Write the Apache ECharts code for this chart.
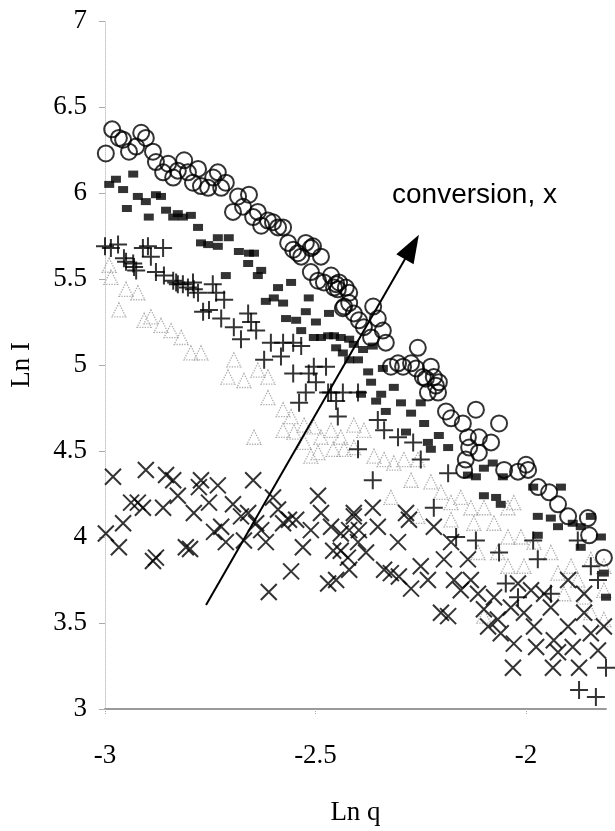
<!DOCTYPE html>
<html>
<head>
<meta charset="utf-8">
<script src="https://cdn.jsdelivr.net/npm/echarts@6/dist/echarts.min.js"></script>
<style>
  html, body { margin: 0; padding: 0; background: #fff; }
  #main { width: 615px; height: 831px; }
</style>
</head>
<body>
<div id="main"></div>
<script>
// Ln q / Ln I pairs, one array per conversion level
var circles = [
  [-2.983,6.37],[-2.998,6.23],[-2.967,6.32],[-2.957,6.31],[-2.943,6.24],[-2.926,6.27],[-2.914,6.35],[-2.903,6.32],
  [-2.886,6.24],[-2.879,6.18],[-2.862,6.12],[-2.850,6.17],[-2.838,6.09],[-2.827,6.13],[-2.812,6.19],[-2.803,6.12],
  [-2.791,6.06],[-2.779,6.14],[-2.772,6.04],[-2.755,6.03],[-2.743,6.09],[-2.732,6.12],[-2.724,6.03],[-2.713,6.06],
  [-2.696,5.89],[-2.684,5.98],[-2.672,5.92],[-2.658,5.99],[-2.648,5.86],[-2.637,5.89],[-2.629,5.81],[-2.613,5.84],
  [-2.601,5.83],[-2.589,5.80],[-2.577,5.80],[-2.565,5.71],[-2.553,5.67],[-2.542,5.65],[-2.534,5.63],[-2.523,5.71],
  [-2.511,5.68],[-2.506,5.69],[-2.487,5.63],[-2.511,5.54],[-2.494,5.49],[-2.480,5.48],[-2.463,5.52],[-2.456,5.45],
  [-2.451,5.47],[-2.447,5.44],[-2.444,5.48],[-2.428,5.45],[-2.432,5.34],[-2.420,5.42],[-2.435,5.33],[-2.420,5.36],
  [-2.409,5.30],[-2.397,5.26],[-2.385,5.22],[-2.363,5.34],[-2.352,5.27],[-2.340,5.20],[-2.333,5.13],[-2.368,5.16],
  [-2.257,5.10],[-2.321,4.99],[-2.304,5.01],[-2.292,4.99],[-2.273,5.01],[-2.261,4.98],[-2.245,4.93],[-2.226,4.99],
  [-2.238,4.92],[-2.219,4.93],[-2.207,4.90],[-2.233,4.84],[-2.209,4.84],[-2.214,4.88],[-2.190,4.73],[-2.178,4.69],
  [-2.150,4.66],[-2.119,4.74],[-2.064,4.66],[-2.138,4.58],[-2.112,4.58],[-2.083,4.55],[-2.135,4.52],[-2.112,4.49],
  [-2.143,4.45],[-2.147,4.39],[-2.052,4.39],[-2.019,4.38],[-2.000,4.42],[-1.995,4.39],[-1.971,4.29],[-1.945,4.26],
  [-1.924,4.19],[-1.900,4.12],[-1.853,4.11],[-1.850,4.01],[-1.815,3.88],[-1.798,3.73]
];
var squares = [
  [-2.990,6.05],[-2.974,6.08],[-2.957,6.02],[-2.933,6.11],[-2.948,5.91],[-2.922,5.98],[-2.903,5.95],[-2.879,5.99],
  [-2.867,5.98],[-2.896,5.86],[-2.855,5.90],[-2.838,5.86],[-2.827,5.88],[-2.815,5.86],[-2.796,5.87],[-2.779,5.80],
  [-2.772,5.71],[-2.755,5.70],[-2.732,5.69],[-2.732,5.74],[-2.706,5.74],[-2.682,5.66],[-2.658,5.65],[-2.646,5.65],
  [-2.660,5.59],[-2.713,5.52],[-2.637,5.52],[-2.629,5.55],[-2.558,5.48],[-2.589,5.45],[-2.618,5.37],[-2.599,5.39],
  [-2.577,5.36],[-2.516,5.39],[-2.523,5.31],[-2.570,5.27],[-2.546,5.26],[-2.499,5.25],[-2.534,5.20],[-2.504,5.16],
  [-2.470,5.17],[-2.456,5.17],[-2.440,5.16],[-2.468,5.30],[-2.451,5.10],[-2.487,5.16],[-2.420,5.15],[-2.435,5.07],
  [-2.420,5.03],[-2.399,5.03],[-2.387,5.09],[-2.409,5.12],[-2.364,5.11],[-2.375,4.96],[-2.340,4.98],[-2.368,4.90],
  [-2.314,4.87],[-2.344,4.83],[-2.392,4.83],[-2.356,4.79],[-2.297,4.78],[-2.250,4.78],[-2.333,4.73],[-2.273,4.72],
  [-2.242,4.66],[-2.285,4.61],[-2.233,4.55],[-2.207,4.59],[-2.185,4.52],[-2.226,4.51],[-2.079,4.43],[-2.100,4.40],
  [-2.138,4.36],[-2.119,4.35],[-2.055,4.35],[-1.983,4.29],[-1.917,4.29],[-2.100,4.24],[-2.071,4.23],[-2.060,4.19],
  [-1.972,4.12],[-1.941,4.11],[-1.889,4.08],[-1.846,4.12],[-1.972,4.01],[-1.924,4.06],[-1.870,4.06],[-1.822,4.00],
  [-1.815,3.79],[-1.810,3.65],[-1.870,3.94]
];
var pluses = [
  [-3.000,5.69],[-2.986,5.68],[-2.969,5.70],[-2.950,5.60],[-2.931,5.57],[-2.910,5.68],[-2.898,5.69],[-2.891,5.63],
  [-2.862,5.68],[-2.879,5.54],[-2.860,5.52],[-2.838,5.49],[-2.827,5.47],[-2.815,5.47],[-2.803,5.45],[-2.789,5.44],
  [-2.955,5.62],[-2.933,5.59],[-2.926,5.55],[-2.831,5.48],[-2.791,5.48],[-2.779,5.42],[-2.744,5.47],[-2.736,5.42],
  [-2.717,5.38],[-2.767,5.31],[-2.753,5.32],[-2.724,5.27],[-2.694,5.22],[-2.660,5.30],[-2.653,5.25],[-2.641,5.20],
  [-2.677,5.15],[-2.606,5.13],[-2.577,5.13],[-2.553,5.13],[-2.534,5.11],[-2.622,5.03],[-2.582,5.05],[-2.553,4.95],
  [-2.516,4.95],[-2.475,4.99],[-2.499,4.90],[-2.523,4.84],[-2.463,4.84],[-2.435,4.84],[-2.451,4.79],[-2.447,4.70],
  [-2.539,4.78],[-2.399,4.51],[-2.399,4.84],[-2.352,4.68],[-2.337,4.62],[-2.304,4.58],[-2.268,4.55],[-2.364,4.33],
  [-2.250,4.45],[-2.185,4.37],[-2.219,4.17],[-2.166,4.00],[-2.119,3.98],[-2.064,3.91],[-2.048,3.73],[-2.019,3.65],
  [-1.941,3.67],[-1.877,3.98],[-1.846,3.83],[-1.829,3.75],[-1.805,3.54],[-1.810,3.24],[-1.874,3.11],[-1.834,3.07],
  [-1.983,3.98],[-1.972,3.87],[-2.504,4.99],[-2.470,4.84]
];
var triangles = [
  [-2.990,5.58],[-2.950,5.44],[-2.922,5.42],[-2.907,5.26],[-2.891,5.28],[-2.867,5.23],[-2.843,5.20],[-2.819,5.16],
  [-2.986,5.51],[-2.967,5.32],[-2.796,5.07],[-2.772,5.07],[-2.694,5.03],[-2.708,4.93],[-2.670,4.91],[-2.637,4.97],
  [-2.613,4.93],[-2.613,4.81],[-2.577,4.74],[-2.558,4.70],[-2.577,4.62],[-2.551,4.61],[-2.527,4.65],[-2.504,4.64],
  [-2.487,4.58],[-2.463,4.62],[-2.440,4.58],[-2.458,4.51],[-2.432,4.51],[-2.511,4.47],[-2.646,4.58],[-2.494,4.49],
  [-2.409,4.65],[-2.527,4.55],[-2.385,4.62],[-2.409,4.52],[-2.361,4.47],[-2.337,4.45],[-2.314,4.43],[-2.290,4.45],
  [-2.257,4.45],[-2.321,4.23],[-2.257,4.12],[-2.273,4.33],[-2.226,4.32],[-2.202,4.26],[-2.178,4.20],[-2.155,4.23],
  [-2.131,4.17],[-2.100,4.17],[-2.043,4.17],[-2.029,4.20],[-2.178,4.10],[-2.124,4.08],[-2.076,4.08],[-2.114,3.91],
  [-2.067,3.91],[-2.043,4.00],[-2.012,4.00],[-1.981,3.97],[-1.941,3.91],[-2.005,3.83],[-2.043,3.83],[-1.924,3.79],
  [-1.893,3.83],[-1.846,3.87],[-1.877,3.75],[-1.910,3.67],[-1.862,3.65],[-1.815,3.69],[-1.846,3.56],[-1.815,3.52],
  [-2.100,3.54],[-1.815,3.83]
];
var crosses = [
  [-2.981,4.35],[-2.903,4.39],[-2.855,4.36],[-2.838,4.33],[-2.827,4.24],[-2.772,4.33],[-2.777,4.29],[-2.732,4.30],
  [-2.648,4.33],[-2.938,4.20],[-2.922,4.20],[-2.910,4.17],[-2.862,4.17],[-2.789,4.14],[-2.753,4.20],[-2.957,4.08],
  [-2.998,4.02],[-2.967,3.94],[-2.886,3.86],[-2.879,3.88],[-2.808,3.94],[-2.798,3.93],[-2.741,4.03],[-2.724,4.06],
  [-2.713,3.97],[-2.696,4.19],[-2.677,4.12],[-2.660,4.14],[-2.641,4.08],[-2.629,4.04],[-2.670,3.98],[-2.618,3.97],
  [-2.601,4.23],[-2.589,4.16],[-2.577,4.08],[-2.563,4.10],[-2.546,4.10],[-2.530,3.94],[-2.511,4.04],[-2.494,4.24],
  [-2.487,4.14],[-2.463,4.06],[-2.440,4.02],[-2.420,4.04],[-2.409,4.14],[-2.458,3.92],[-2.440,3.92],[-2.423,3.88],
  [-2.558,3.80],[-2.470,3.73],[-2.451,3.75],[-2.611,3.68],[-2.420,3.81],[-2.364,4.17],[-2.409,4.12],[-2.397,4.04],
  [-2.352,4.06],[-2.399,3.97],[-2.380,3.91],[-2.304,3.97],[-2.285,4.14],[-2.278,4.10],[-2.337,3.81],[-2.321,3.79],
  [-2.302,3.77],[-2.273,3.70],[-2.250,3.83],[-2.233,3.75],[-2.219,4.06],[-2.195,3.87],[-2.178,3.97],[-2.171,3.75],
  [-2.155,3.69],[-2.202,3.56],[-2.185,3.54],[-2.138,3.87],[-2.131,3.75],[-2.114,3.67],[-2.100,3.58],[-2.090,3.48],
  [-2.067,3.52],[-2.060,3.44],[-2.076,3.65],[-2.036,3.59],[-2.029,3.38],[-2.019,3.73],[-2.005,3.56],[-1.981,3.48],
  [-1.976,3.36],[-2.031,3.24],[-1.941,3.59],[-1.934,3.40],[-1.924,3.33],[-1.936,3.24],[-1.900,3.48],[-1.889,3.36],
  [-1.874,3.24],[-1.862,3.56],[-1.846,3.44],[-1.829,3.34],[-1.815,3.48],[-1.798,3.38],[-1.900,3.75],[-1.862,3.67],
  [-1.988,3.69],[-1.957,3.67]
];
// arrow showing the direction of increasing conversion
var arrowFrom = [-2.760, 3.605];
var arrowTo = [-2.271, 5.686];

var serif = 'Liberation Serif';
var plusPath = 'path://M0,5L10,5M5,0L5,10';
var crossPath = 'path://M0,0L10,10M10,0L0,10';

var myChart = echarts.init(document.getElementById('main'));
var option = {
    backgroundColor: '#fff',
    animation: false,
    grid: { left: 104, right: 9, top: 21, bottom: 122 },
    xAxis: {
        type: 'value',
        min: -3,
        max: -1.81,
        interval: 0.5,
        name: 'Ln q',
        nameLocation: 'middle',
        nameGap: 90,
        nameTextStyle: { fontFamily: serif, fontSize: 27, color: '#000' },
        splitLine: { show: false },
        axisLine: { show: true, lineStyle: { color: '#9a9a9a', width: 2 } },
        axisTick: { show: true, length: 5, lineStyle: { color: '#aaa', type: 'dotted' } },
        axisLabel: { fontFamily: serif, fontSize: 27, color: '#000', margin: 33, showMaxLabel: false }
    },
    yAxis: {
        type: 'value',
        min: 3,
        max: 7,
        interval: 0.5,
        name: 'Ln I',
        nameLocation: 'middle',
        nameGap: 70,
        nameRotate: 90,
        nameTextStyle: { fontFamily: serif, fontSize: 27, color: '#000' },
        splitLine: { show: false },
        axisLine: { show: true, lineStyle: { color: '#c8c8c8', type: 'dotted' } },
        axisTick: { show: true, length: 6, lineStyle: { color: '#aaa' } },
        axisLabel: { fontFamily: serif, fontSize: 27, color: '#000', margin: 18 }
    },
    graphic: [{
        type: 'text',
        left: 392,
        top: 181,
        style: { text: 'conversion, x', fontFamily: 'Liberation Sans', fontSize: 28, fill: '#000' }
    }],
    series: [
        {
            type: 'scatter',
            data: triangles,
            symbol: 'triangle',
            symbolSize: 14,
            itemStyle: { color: 'rgba(0,0,0,0)', borderColor: '#999', borderWidth: 1.3, borderType: 'dotted' }
        },
        {
            type: 'scatter',
            data: crosses,
            symbol: crossPath,
            symbolSize: 16,
            itemStyle: { color: 'rgba(0,0,0,0)', borderColor: '#000', borderWidth: 2 }
        },
        {
            type: 'scatter',
            data: pluses,
            symbol: plusPath,
            symbolSize: 18,
            itemStyle: { color: 'rgba(0,0,0,0)', borderColor: '#000', borderWidth: 2 }
        },
        {
            type: 'scatter',
            data: squares,
            symbol: 'rect',
            symbolSize: [10, 7],
            itemStyle: { color: '#000' }
        },
        {
            type: 'scatter',
            data: circles,
            symbol: 'circle',
            symbolSize: 16,
            itemStyle: { color: 'rgba(0,0,0,0)', borderColor: '#000', borderWidth: 2 },
            markLine: {
                silent: true,
                symbol: ['none', 'triangle'],
                symbolSize: [20, 28],
                label: { show: false },
                lineStyle: { color: '#000', width: 2, type: 'solid' },
                data: [[{ coord: arrowFrom }, { coord: arrowTo }]]
            }
        }
    ]
};
myChart.setOption(option);
</script>
</body>
</html>
